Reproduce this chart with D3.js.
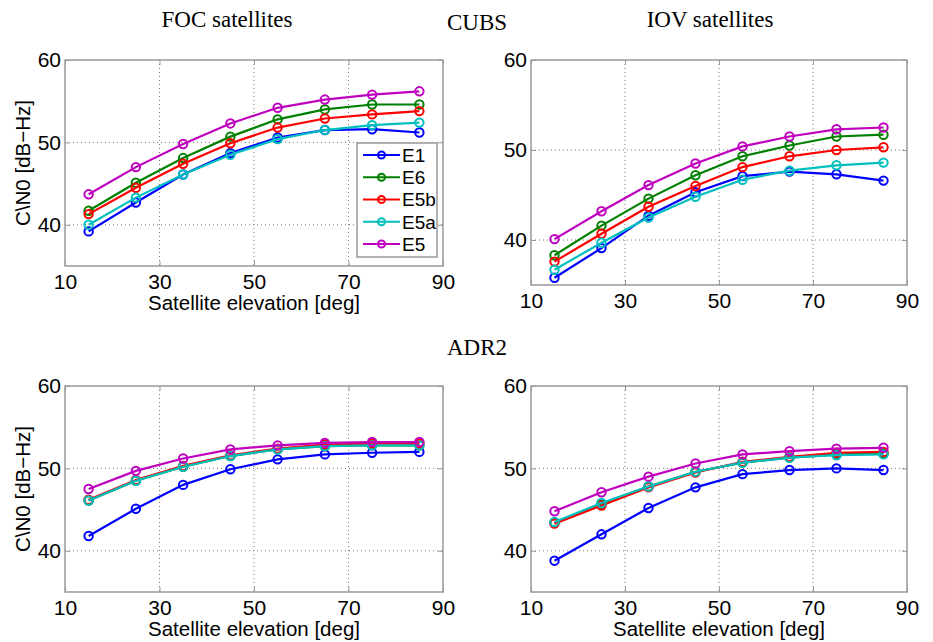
<!DOCTYPE html>
<html>
<head>
<meta charset="utf-8">
<script src="https://cdn.jsdelivr.net/npm/d3@7"></script>
<style>
  body { margin: 0; background: #fff; }
  svg { display: block; }
</style>
</head>
<body>
<div id="chart"></div>
<script>
const elevation = [15, 25, 35, 45, 55, 65, 75, 85]
const xTicks = [10, 30, 50, 70, 90]
const yTicks = [40, 50, 60]
const signals = ['E1', 'E6', 'E5b', 'E5a', 'E5']
const colors = ['#0000ff', '#008000', '#ff0000', '#00bfbf', '#bf00bf']

// C/N0 per signal, one array per panel
const cubsFOC = [
  [39.2, 42.7, 46.1, 48.7, 50.6, 51.5, 51.6, 51.2],
  [41.7, 45.1, 48.1, 50.7, 52.8, 54.0, 54.6, 54.6],
  [41.3, 44.5, 47.4, 49.9, 51.8, 52.9, 53.4, 53.8],
  [40.0, 43.3, 46.1, 48.5, 50.4, 51.5, 52.1, 52.4],
  [43.7, 47.0, 49.8, 52.3, 54.2, 55.2, 55.8, 56.2]
]
const cubsIOV = [
  [35.8, 39.1, 42.7, 45.3, 47.1, 47.6, 47.3, 46.6],
  [38.3, 41.6, 44.6, 47.2, 49.3, 50.5, 51.5, 51.7],
  [37.6, 40.7, 43.7, 46.0, 48.1, 49.3, 50.0, 50.3],
  [36.7, 39.7, 42.5, 44.8, 46.7, 47.7, 48.3, 48.6],
  [40.1, 43.2, 46.1, 48.5, 50.4, 51.5, 52.3, 52.5]
]
const adr2FOC = [
  [41.8, 45.1, 48.0, 49.9, 51.1, 51.7, 51.9, 52.0],
  [46.1, 48.5, 50.2, 51.5, 52.3, 52.7, 52.8, 52.8],
  [46.2, 48.6, 50.3, 51.6, 52.4, 52.9, 53.0, 53.0],
  [46.1, 48.5, 50.2, 51.5, 52.3, 52.7, 52.8, 52.8],
  [47.5, 49.7, 51.2, 52.3, 52.8, 53.1, 53.2, 53.2]
]
const adr2IOV = [
  [38.8, 42.0, 45.2, 47.7, 49.3, 49.8, 50.0, 49.8],
  [43.4, 45.7, 47.8, 49.6, 50.7, 51.3, 51.7, 51.8],
  [43.3, 45.5, 47.7, 49.5, 50.8, 51.4, 51.9, 52.0],
  [43.5, 45.8, 47.8, 49.6, 50.7, 51.3, 51.6, 51.7],
  [44.8, 47.1, 49.0, 50.6, 51.7, 52.1, 52.4, 52.5]
]

const W = 933, H = 642
const svg = d3.select('#chart').append('svg')
  .attr('width', W).attr('height', H)

const sans = 'Liberation Sans, Arial, sans-serif'
const serif = 'Liberation Serif, Times New Roman, serif'
const boxColor = '#999'

// titles
const titles = [
  {t: 'FOC satellites', x: 227, y: 27},
  {t: 'CUBS', x: 477, y: 30},
  {t: 'IOV satellites', x: 710, y: 27},
  {t: 'ADR2', x: 477, y: 355}
]
svg.selectAll('text.title').data(titles).enter().append('text')
  .attr('class', 'title')
  .attr('x', d => d.x).attr('y', d => d.y)
  .attr('text-anchor', 'middle')
  .style('font-family', serif).style('font-size', '23px')
  .text(d => d.t)

const panels = [
  {data: cubsFOC, left: 65, right: 443, top: 60, bottom: 266, ylab: true, xlab: true, legend: true},
  {data: cubsIOV, left: 531, right: 907, top: 60, bottom: 285, ylab: false, xlab: false},
  {data: adr2FOC, left: 65, right: 443, top: 386, bottom: 592, ylab: true, xlab: true},
  {data: adr2IOV, left: 531, right: 907, top: 386, bottom: 592, ylab: false, xlab: true}
]

function drawPanel(p){
  const x = d3.scaleLinear().domain([10, 90]).range([p.left, p.right])
  const y = d3.scaleLinear().domain([35, 60]).range([p.bottom, p.top])
  const g = svg.append('g')

  // grid
  g.selectAll('line.gx').data(xTicks.slice(1, -1)).enter().append('line')
    .attr('x1', d => x(d)).attr('x2', d => x(d))
    .attr('y1', p.top).attr('y2', p.bottom)
    .attr('stroke', '#777').attr('stroke-width', 1).attr('stroke-dasharray', '1,3')
  g.selectAll('line.gy').data(yTicks.slice(0, -1)).enter().append('line')
    .attr('x1', p.left).attr('x2', p.right)
    .attr('y1', d => y(d)).attr('y2', d => y(d))
    .attr('stroke', '#777').attr('stroke-width', 1).attr('stroke-dasharray', '1,3')

  // box
  g.append('rect')
    .attr('x', p.left).attr('y', p.top)
    .attr('width', p.right - p.left).attr('height', p.bottom - p.top)
    .attr('fill', 'none').attr('stroke', boxColor).attr('stroke-width', 1.5)

  // axes, ticks pointing inward
  g.append('g').attr('transform', 'translate(0,' + p.bottom + ')')
    .call(d3.axisBottom(x).tickValues(xTicks).tickSizeInner(-5).tickSizeOuter(0).tickPadding(8))
  g.append('g').attr('transform', 'translate(' + p.left + ',0)')
    .call(d3.axisLeft(y).tickValues(yTicks).tickSizeInner(-5).tickSizeOuter(0).tickPadding(4))
  g.append('g').attr('transform', 'translate(0,' + p.top + ')')
    .call(d3.axisTop(x).tickValues(xTicks).tickSizeInner(-5).tickSizeOuter(0).tickFormat(''))
  g.append('g').attr('transform', 'translate(' + p.right + ',0)')
    .call(d3.axisRight(y).tickValues(yTicks).tickSizeInner(-5).tickSizeOuter(0).tickFormat(''))
  g.selectAll('.domain').remove()
  g.selectAll('.tick line').attr('stroke', boxColor)
  g.selectAll('.tick text').style('font-family', sans).style('font-size', '21px').attr('fill', '#000')

  if (p.xlab) {
    g.append('text')
      .attr('x', (p.left + p.right) / 2).attr('y', p.bottom + 44)
      .attr('text-anchor', 'middle')
      .style('font-family', sans).style('font-size', '20.5px')
      .text('Satellite elevation [deg]')
  }
  if (p.ylab) {
    g.append('text')
      .attr('transform', 'translate(30,' + (p.top + p.bottom) / 2 + ') rotate(-90)')
      .attr('text-anchor', 'middle')
      .style('font-family', sans).style('font-size', '20.5px')
      .text('C\\N0 [dB\u2212Hz]')
  }

  const line = d3.line().x((d, i) => x(elevation[i])).y(d => y(d))
  p.data.forEach((vals, k) => {
    g.append('path').datum(vals)
      .attr('d', line)
      .attr('fill', 'none').attr('stroke', colors[k]).attr('stroke-width', 2.2)
    g.selectAll(null).data(vals).enter().append('circle')
      .attr('cx', (d, i) => x(elevation[i])).attr('cy', d => y(d))
      .attr('r', 4.2)
      .attr('fill', 'none').attr('stroke', colors[k]).attr('stroke-width', 2)
  })

  if (p.legend) {
    const lg = g.append('g')
    lg.append('rect')
      .attr('x', 357).attr('y', 143).attr('width', 80).attr('height', 114)
      .attr('fill', '#fff').attr('stroke', boxColor).attr('stroke-width', 1.5)
    const row = d3.scalePoint().domain(signals).range([155, 244])
    signals.forEach((s, k) => {
      const yy = row(s)
      lg.append('line').attr('x1', 363).attr('x2', 400).attr('y1', yy).attr('y2', yy)
        .attr('stroke', colors[k]).attr('stroke-width', 2.2)
      lg.append('circle').attr('cx', 381.5).attr('cy', yy).attr('r', 3.5)
        .attr('fill', 'none').attr('stroke', colors[k]).attr('stroke-width', 2)
      lg.append('text').attr('x', 402).attr('y', yy).attr('dy', '0.36em')
        .style('font-family', sans).style('font-size', '19px')
        .text(s)
    })
  }
}

panels.forEach(drawPanel)
</script>
</body>
</html>
